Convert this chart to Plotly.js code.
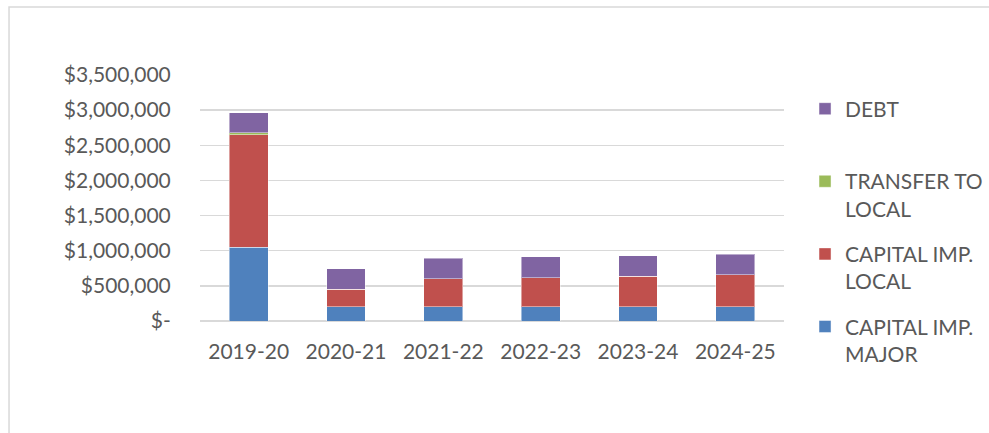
<!DOCTYPE html>
<html>
<head>
<meta charset="utf-8">
<script src="https://cdn.plot.ly/plotly-3.0.1.min.js"></script>
<style>
html,body{margin:0;padding:0;background:#fff;}
#chart{width:989px;height:433px;}
</style>
</head>
<body>
<div id="chart"></div>
<script>
const categories = ["2019-20", "2020-21", "2021-22", "2022-23", "2023-24", "2024-25"];
const capitalImpMajor = [1050000, 200000, 200000, 200000, 200000, 200000];
const capitalImpLocal = [1600000, 255000, 400000, 415000, 435000, 460000];
const transferToLocal = [25000, 0, 0, 0, 0, 0];
const debt = [285000, 285000, 295000, 300000, 295000, 290000];
const seriesNames = ["CAPITAL IMP.<br>MAJOR", "CAPITAL IMP.<br>LOCAL", "TRANSFER TO<br>LOCAL", "DEBT<br>\u00a0"];
const tickVals = [0, 500000, 1000000, 1500000, 2000000, 2500000, 3000000, 3500000];
const tickText = ["$-", "$500,000", "$1,000,000", "$1,500,000", "$2,000,000", "$2,500,000", "$3,000,000", "$3,500,000"];

const colors = ["#4F81BD", "#C0504D", "#9BBB59", "#8064A2"];
const seriesValues = [capitalImpMajor, capitalImpLocal, transferToLocal, debt];

const traces = seriesValues.map((vals, i) => ({
  type: "bar",
  x: categories,
  y: vals,
  name: seriesNames[i],
  legendgroup: "g" + i,
  legendrank: 1000 - i * 10,
  marker: {color: colors[i], line: {color: "rgba(255,255,255,0.45)", width: 1}},
  width: 0.4,
  hoverinfo: "x+y+name"
}));

const fontFam = "Lato, 'Open Sans', sans-serif";
const layout = {
  width: 989,
  height: 433,
  margin: {l: 200, r: 205, t: 75, b: 112, autoexpand: false},
  barmode: "stack",
  paper_bgcolor: "#ffffff",
  plot_bgcolor: "#ffffff",
  font: {family: fontFam, size: 21, color: "#595959"},
  xaxis: {
    type: "category",
    showgrid: false,
    zeroline: false,
    showline: false,
    ticks: "outside",
    ticklen: 12,
    tickcolor: "rgba(0,0,0,0)",
    tickfont: {family: fontFam, size: 21, color: "#595959"}
  },
  yaxis: {
    range: [0, 3500000],
    tickvals: tickVals,
    ticktext: tickText,
    showgrid: true,
    gridcolor: "#D9D9D9",
    gridwidth: 1.5,
    zeroline: true,
    zerolinecolor: "#D9D9D9",
    zerolinewidth: 2,
    showline: false,
    ticks: "outside",
    ticklen: 24,
    tickcolor: "rgba(0,0,0,0)",
    tickfont: {family: fontFam, size: 21, color: "#595959"}
  },
  legend: {
    x: 1.036,
    y: 0.945,
    xanchor: "left",
    yanchor: "top",
    traceorder: "grouped",
    valign: "top",
    tracegroupgap: 15,
    maxheight: 800,
    font: {family: fontFam, size: 21, color: "#595959"},
    bgcolor: "rgba(0,0,0,0)"
  },
  shapes: [{
    type: "rect",
    xref: "paper", yref: "paper",
    x0: -0.327, x1: 1.6, y0: -1, y1: 1.276,
    line: {color: "#D9D9D9", width: 1.5},
    fillcolor: "rgba(0,0,0,0)",
    layer: "below"
  }],
  showlegend: true
};

Plotly.newPlot("chart", traces, layout, {displayModeBar: false, staticPlot: true});
</script>
</body>
</html>
